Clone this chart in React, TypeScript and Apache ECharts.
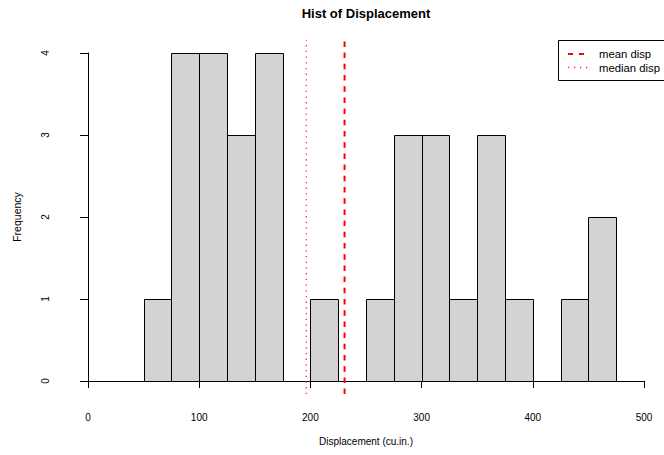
import React, { useEffect, useRef } from "react";
import * as echarts from "echarts";

const breaks = [0, 25, 50, 75, 100, 125, 150, 175, 200, 225, 250, 275, 300, 325, 350, 375, 400, 425, 450, 475, 500];
const counts = [0, 0, 1, 4, 4, 3, 4, 0, 1, 0, 1, 3, 3, 1, 3, 1, 0, 1, 2, 0];
const meanDisp = 230.7219;
const medianDisp = 196.3;
const xTicks = [0, 100, 200, 300, 400, 500];
const yTicks = [0, 1, 2, 3, 4];

export default function App() {
  const ref = useRef<HTMLDivElement>(null);
  useEffect(() => {
    if (!ref.current) return;
    const chart = echarts.init(ref.current, null, { renderer: "svg" });
    const binData = counts.map((c, i) => [breaks[i], breaks[i + 1], c]);
    const font = "'Liberation Sans', Arial, sans-serif";
    chart.setOption({
      animation: false,
      backgroundColor: "#ffffff",
      grid: { left: 88, width: 556, top: 53, height: 328 },
      xAxis: {
        type: "value",
        min: xTicks[0],
        max: xTicks[xTicks.length - 1],
        interval: 100,
        offset: 13,
        splitLine: { show: false },
        axisLine: { show: true, lineStyle: { color: "#000", width: 1 } },
        axisTick: { show: true, length: 7, lineStyle: { color: "#000" } },
        axisLabel: { color: "#000", fontSize: 10, fontFamily: font, margin: 18, showMinLabel: true, showMaxLabel: true },
      },
      yAxis: {
        type: "value",
        min: yTicks[0],
        max: yTicks[yTicks.length - 1],
        interval: 1,
        offset: 23,
        splitLine: { show: false },
        axisLine: { show: true, lineStyle: { color: "#000", width: 1 } },
        axisTick: { show: true, length: 8, lineStyle: { color: "#000" } },
        axisLabel: { color: "#000", fontSize: 10, fontFamily: font, margin: 15, rotate: 90 },
      },
      graphic: [
        {
          type: "text",
          x: 366,
          y: 13,
          style: {
            text: "Hist of Displacement",
            fill: "#000",
            font: `bold 13px ${font}`,
            textAlign: "center",
            textVerticalAlign: "middle",
          },
        },
        {
          type: "text",
          x: 366,
          y: 441,
          style: {
            text: "Displacement (cu.in.)",
            fill: "#000",
            font: `10px ${font}`,
            textAlign: "center",
            textVerticalAlign: "middle",
          },
        },
        {
          type: "text",
          x: 17,
          y: 217,
          rotation: Math.PI / 2,
          style: {
            text: "Frequency",
            fill: "#000",
            font: `10.5px ${font}`,
            textAlign: "center",
            textVerticalAlign: "middle",
          },
        },
        {
          type: "rect",
          shape: { x: 558.5, y: 40.5, width: 120, height: 40 },
          style: { fill: "#fff", stroke: "#000", lineWidth: 1 },
          z: 10,
        },
        {
          type: "line",
          shape: { x1: 568, y1: 54, x2: 585, y2: 54 },
          style: { stroke: "#ff0000", lineWidth: 2, lineDash: [5, 6] },
          z: 11,
        },
        {
          type: "line",
          shape: { x1: 568, y1: 67.5, x2: 588, y2: 67.5 },
          style: { stroke: "#ff3333", lineWidth: 1.3, lineDash: [1.3, 4.7] },
          z: 11,
        },
        {
          type: "text",
          x: 599,
          y: 54,
          style: { text: "mean disp", fill: "#000", font: `11.3px ${font}`, textVerticalAlign: "middle" },
          z: 11,
        },
        {
          type: "text",
          x: 599,
          y: 67.5,
          style: { text: "median disp", fill: "#000", font: `11.3px ${font}`, textVerticalAlign: "middle" },
          z: 11,
        },
      ],
      series: [
        {
          type: "custom",
          clip: false,
          data: binData,
          encode: { x: [0, 1], y: 2 },
          renderItem: (params: any, api: any) => {
            const p0 = api.coord([api.value(0), api.value(2)]);
            const p1 = api.coord([api.value(1), 0]);
            return {
              type: "rect",
              shape: {
                x: Math.round(p0[0]) + 0.5,
                y: Math.round(p0[1]) + 0.5,
                width: Math.round(p1[0]) - Math.round(p0[0]),
                height: Math.round(p1[1]) - Math.round(p0[1]),
              },
              style: { fill: "#d3d3d3", stroke: "#000", lineWidth: 1 },
            };
          },
        },
        {
          type: "line",
          clip: false,
          symbol: "none",
          data: [
            [medianDisp, -0.16],
            [medianDisp, 4.16],
          ],
          lineStyle: { color: "#ff3333", width: 1.3, type: [1.3, 4.4] },
          z: 5,
        },
        {
          type: "line",
          clip: false,
          symbol: "none",
          data: [
            [meanDisp, -0.16],
            [meanDisp, 4.16],
          ],
          lineStyle: { color: "#ff0000", width: 2, type: [5.5, 5.7] },
          z: 5,
        },
      ],
    });
    return () => chart.dispose();
  }, []);
  return <div ref={ref} style={{ width: 664, height: 455, position: "absolute", left: 0, top: 0 }} />;
}
